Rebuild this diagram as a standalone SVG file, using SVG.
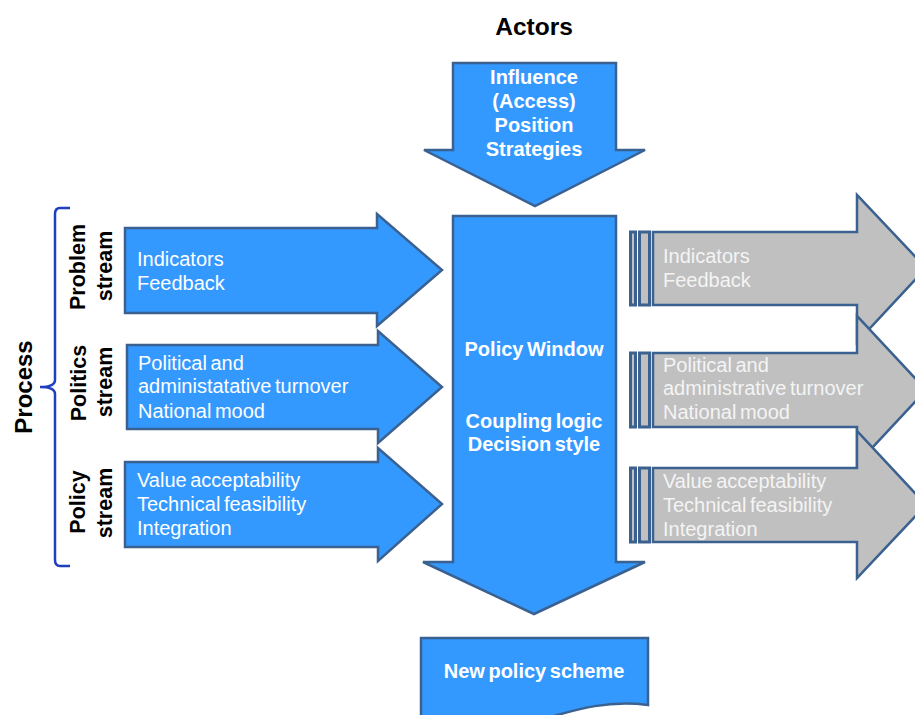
<svg xmlns="http://www.w3.org/2000/svg" width="915" height="715" viewBox="0 0 915 715">
<style>
.blue{fill:#3399ff;stroke:#3b6190;stroke-width:2.5;stroke-linejoin:miter}
.gray{fill:#c0c0c0;stroke:#3b6190;stroke-width:2.5}
.bar{fill:#c0c0c0;stroke:#3b6190;stroke-width:3}
.wt{font-family:"Liberation Sans",Arial,sans-serif;font-size:20px;fill:#ffffff;word-spacing:-2px}
.gt{font-family:"Liberation Sans",Arial,sans-serif;font-size:20px;fill:#f4f4f4;word-spacing:-2px}
.wb{font-family:"Liberation Sans",Arial,sans-serif;font-size:20px;font-weight:bold;fill:#ffffff;text-anchor:middle;word-spacing:-2px}
.lab{font-family:"Liberation Sans",Arial,sans-serif;font-size:21.5px;font-weight:bold;fill:#000000;text-anchor:middle}
</style>
<rect width="915" height="715" fill="#ffffff"/>
<g id="actors-title">
<text x="534" y="35" class="lab" style="font-size:24.5px">Actors</text>
</g>
<g id="actors-arrow">
<path class="blue" d="M453,63 H616 V150 H645 L535,206 L424,150 H453 Z"/>
<text class="wb" x="534" y="84">Influence</text>
<text class="wb" x="534" y="108">(Access)</text>
<text class="wb" x="534" y="132">Position</text>
<text class="wb" x="534" y="156">Strategies</text>
</g>
<g id="process-label">
<path d="M70,208 H60 Q55,208 55,214 V380 Q55,387 40,387 Q55,387 55,394 V560 Q55,566 60,566 H70" fill="none" stroke="#1f3fbf" stroke-width="2.5"/>
<text class="lab" style="font-size:24px" transform="translate(32,387) rotate(-90)">Process</text>
</g>
<g id="gray-problem">
<rect class="bar" x="630.5" y="232" width="5" height="73"/>
<rect class="bar" x="639.5" y="232" width="10" height="73"/>
<path class="gray" d="M653,232 H857 V195 L926,268 L857,342 V305 H653 Z"/>
<text class="gt" x="663" y="263">Indicators</text>
<text class="gt" x="663" y="287">Feedback</text>
</g>
<g id="gray-politics">
<rect class="bar" x="630.5" y="353" width="5" height="74"/>
<rect class="bar" x="639.5" y="353" width="10" height="74"/>
<path class="gray" d="M653,353 H857 V316 L926,390 L857,464 V427 H653 Z"/>
<text class="gt" x="663" y="372">Political and</text>
<text class="gt" x="663" y="395">administrative turnover</text>
<text class="gt" x="663" y="419">National mood</text>
</g>
<g id="gray-policy">
<rect class="bar" x="630.5" y="468" width="5" height="74"/>
<rect class="bar" x="639.5" y="468" width="10" height="74"/>
<path class="gray" d="M653,468 H857 V431 L926,505 L857,578 V542 H653 Z"/>
<text class="gt" x="663" y="488">Value acceptability</text>
<text class="gt" x="663" y="512">Technical feasibility</text>
<text class="gt" x="663" y="536">Integration</text>
</g>
<g id="problem-stream">
<text class="lab" transform="translate(85,267) rotate(-90)">Problem</text>
<text class="lab" transform="translate(112,266) rotate(-90)">stream</text>
<path class="blue" d="M125,228 H377 V214 L442,270 L377,326 V313 H125 Z"/>
<text class="wt" x="137" y="266">Indicators</text>
<text class="wt" x="137" y="290">Feedback</text>
</g>
<g id="politics-stream">
<text class="lab" transform="translate(86,383) rotate(-90)">Politics</text>
<text class="lab" transform="translate(112,382) rotate(-90)">stream</text>
<path class="blue" d="M127,345 H378 V331 L442,387 L378,443 V429 H127 Z"/>
<text class="wt" x="138" y="370">Political and</text>
<text class="wt" x="138" y="393">administatative turnover</text>
<text class="wt" x="138" y="418">National mood</text>
</g>
<g id="policy-stream">
<text class="lab" transform="translate(85,502) rotate(-90)">Policy</text>
<text class="lab" transform="translate(112,503) rotate(-90)">stream</text>
<path class="blue" d="M125,462 H378 V448 L442,504 L378,561 V547 H125 Z"/>
<text class="wt" x="137" y="487">Value acceptability</text>
<text class="wt" x="137" y="511">Technical feasibility</text>
<text class="wt" x="137" y="535">Integration</text>
</g>
<g id="policy-window">
<path class="blue" d="M453,216 H616 V562 H645 L534,614 L423,562 H453 Z"/>
<text class="wb" x="534" y="356">Policy Window</text>
<text class="wb" x="534" y="428">Coupling logic</text>
<text class="wb" x="534" y="451">Decision style</text>
</g>
<g id="new-policy-scheme">
<path class="blue" d="M421,638 H648 V705 C610,700 580,708 540,720 C500,732 460,735 421,728 Z"/>
<text class="wb" x="534" y="678">New policy scheme</text>
</g>
<g id="connectors"></g>
</svg>
